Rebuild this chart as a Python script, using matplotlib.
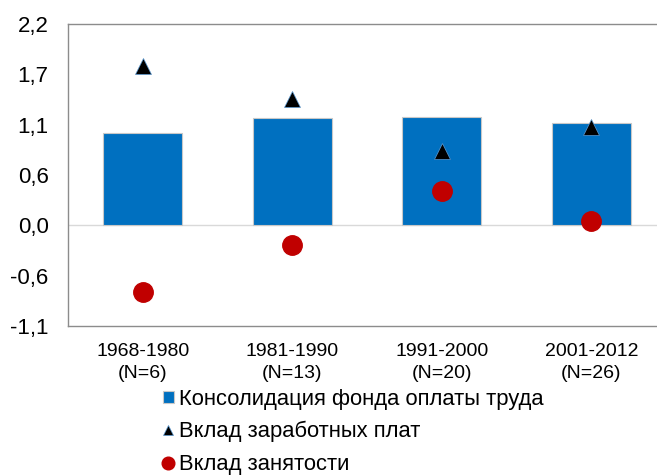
import matplotlib.pyplot as plt
import numpy as np

plt.rcParams["font.family"] = ["Liberation Sans", "DejaVu Sans"]

periods = ["1968-1980\n(N=6)", "1981-1990\n(N=13)", "1991-2000\n(N=20)", "2001-2012\n(N=26)"]
payroll = [1.01, 1.17, 1.18, 1.12]
wages = [1.74, 1.38, 0.81, 1.07]
employment = [-0.73, -0.21, 0.37, 0.05]
yticks = [-1.1, -0.55, 0.0, 0.55, 1.1, 1.65, 2.2]
ytick_labels = ["-1,1", "-0,6", "0,0", "0,6", "1,1", "1,7", "2,2"]

fig = plt.figure(figsize=(6.57, 4.75), dpi=100)
# right edge of the plot area runs past the picture, as in the original
ax = fig.add_axes([0.1035, 0.3137, 0.9102, 0.6358])

x = np.arange(len(periods))
bars = ax.bar(x, payroll, width=0.53, color="#0070c0", edgecolor="#c8c8c8",
              linewidth=0.8, label="Консолидация фонда оплаты труда", zorder=2)
ax.axhline(0, color="#d9d9d9", linewidth=1, zorder=1)
tri, = ax.plot(x, wages, linestyle="none", marker="^", markersize=12,
               color="black", markeredgecolor="#5b9bd5", markeredgewidth=0.5,
               label="Вклад заработных плат", zorder=3)
dots, = ax.plot(x, employment, linestyle="none", marker="o", markersize=14,
                color="#c00000", markeredgecolor="#c00000",
                label="Вклад занятости", zorder=3)

ax.set_xlim(-0.5, 3.5)
ax.set_ylim(-1.1, 2.2)
ax.set_yticks(yticks)
ax.set_yticklabels(ytick_labels, fontsize=16)
ax.set_xticks(x)
ax.set_xticklabels(periods, fontsize=14, linespacing=1.4)
ax.tick_params(length=0)
ax.tick_params(axis="y", pad=14)
ax.tick_params(axis="x", pad=12)
for s in ax.spines.values():
    s.set_color("#8c8c8c")
    s.set_linewidth(1)

leg = fig.legend(handles=[bars, tri, dots], loc="upper left",
                 bbox_to_anchor=(0.2476, 0.182), frameon=False, fontsize=15.8,
                 handlelength=0.5, handleheight=0.5, handletextpad=0.23,
                 labelspacing=0.53, markerscale=0.65, borderaxespad=0,
                 borderpad=0)

plt.savefig("out.png", dpi=100)
plt.close()
